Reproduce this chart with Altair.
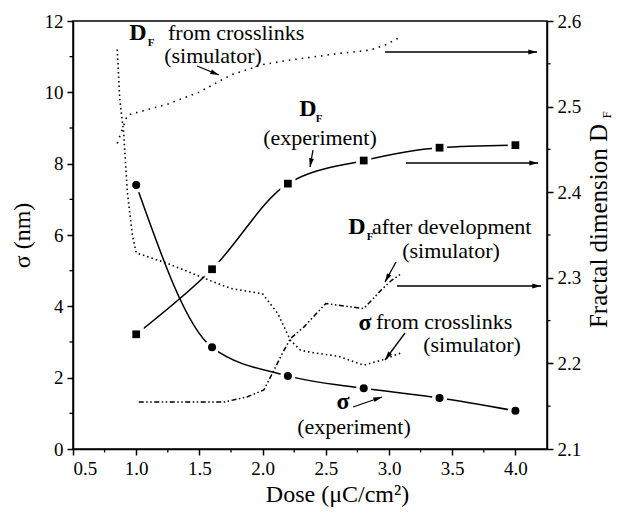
import math
import altair as alt
import pandas as pd

# ---------------- data ----------------
dose_exp = [1.0, 1.6, 2.2, 2.8, 3.4, 4.0]
sigma_exp = [7.4, 2.85, 2.05, 1.70, 1.43, 1.07]
df_exp = [2.234, 2.310, 2.410, 2.437, 2.452, 2.455]

sigma_cl_dose = [0.85, 0.87, 0.90, 0.93, 0.97, 1.0, 1.25, 1.6, 1.75, 2.0, 2.12, 2.22, 2.3, 2.4, 2.6, 2.8, 2.95, 3.1]
sigma_cl = [11.2, 9.8, 8.9, 7.2, 6.0, 5.5, 5.2, 4.7, 4.5, 4.35, 3.8, 3.05, 2.77, 2.7, 2.6, 2.35, 2.5, 2.7]

df_cl_dose = [0.85, 0.93, 1.25, 1.5, 1.75, 2.0, 2.2, 2.6, 2.85, 2.97, 3.1]
df_cl = [2.457, 2.49, 2.503, 2.517, 2.537, 2.549, 2.554, 2.562, 2.566, 2.572, 2.582]

df_dev_dose = [1.02, 1.7, 1.88, 2.01, 2.09, 2.15, 2.22, 2.33, 2.5, 2.8, 2.94, 3.02, 3.1]
df_dev = [2.155, 2.155, 2.161, 2.169, 2.192, 2.21, 2.229, 2.243, 2.27, 2.264, 2.286, 2.297, 2.305]

x_ticks = [0.5, 1.0, 1.5, 2.0, 2.5, 3.0, 3.5, 4.0]
x_minor = [0.75, 1.25, 1.75, 2.25, 2.75, 3.25, 3.75]
sigma_ticks = [0, 2, 4, 6, 8, 10, 12]
sigma_minor = [1, 3, 5, 7, 9, 11]
df_ticks = [2.1, 2.2, 2.3, 2.4, 2.5, 2.6]
df_minor = [2.15, 2.25, 2.35, 2.45, 2.55]

# ---------------- layout ----------------
SERIF = "Liberation Serif"
PL, PT, W, H = 73, 21, 474, 428
XD = [0.5, 4.25]
SD = [0.0, 12.0]
DD = [2.1, 2.6]


def dx(px):
    return XD[0] + (px - PL) / W * (XD[1] - XD[0])


def sy(py):
    return SD[0] + (PT + H - py) / H * (SD[1] - SD[0])


xs = alt.Scale(domain=XD, nice=False, zero=False)
ss = alt.Scale(domain=SD, nice=False, zero=False)
ds = alt.Scale(domain=DD, nice=False, zero=False)

# annotation texts (pixel positions in the figure, converted to data units)
bold_txt = [("D", 138, 40, 24), ("F", 151, 46, 11),
            ("D", 308, 116, 24), ("F", 319, 122, 11),
            ("D", 357, 234, 24), ("F", 370, 240, 11),
            ("σ", 365, 330, 24), ("σ", 343, 409, 24)]
norm_txt = [("from crosslinks", 168, 40, "left"), ("(simulator)", 213, 63, "center"),
            ("(experiment)", 320, 145, "center"),
            ("after development", 372, 234, "left"), ("(simulator)", 451, 258, "center"),
            ("from crosslinks", 376, 329, "left"), ("(simulator)", 472, 352, "center"),
            ("(experiment)", 354, 434, "center")]
arrows = [(197, 66, 219, 75), (313, 150, 310, 167), (396, 262, 385, 282),
          (405, 333, 385, 360), (353, 407, 382, 397),
          (385, 52, 537, 52), (406, 163, 538, 163), (397, 286, 541, 286)]

exp_df = pd.DataFrame({"dose": dose_exp, "sigma": sigma_exp, "df": df_exp})
scl_df = pd.DataFrame({"dose": sigma_cl_dose, "sigma": sigma_cl})
dcl_df = pd.DataFrame({"dose": df_cl_dose, "df": df_cl})
dev_df = pd.DataFrame({"dose": df_dev_dose, "df": df_dev})

X_AX = alt.Axis(values=x_ticks, format=".1f", tickSize=6, tickWidth=1.5, domainWidth=1.5,
                domainColor="black", tickColor="black", labelColor="black",
                labelFont=SERIF, labelFontSize=19, labelPadding=4, grid=False,
                title="Dose (μC/cm²)", titleFont=SERIF, titleFontSize=24, titleFontWeight="normal",
                titleColor="black", titleX=264, titleY=52, titleBaseline="alphabetic",
                titleAlign="center", orient="bottom")
S_AX = alt.Axis(values=sigma_ticks, format="d", tickSize=6, tickWidth=1.5, domainWidth=1.5,
                domainColor="black", tickColor="black", labelColor="black",
                labelFont=SERIF, labelFontSize=19, labelPadding=4, grid=False,
                title="σ (nm)", titleFont=SERIF, titleFontSize=24, titleFontWeight="normal",
                titleColor="black", titlePadding=10, orient="left")
D_AX = alt.Axis(values=df_ticks, format=".1f", tickSize=6, tickWidth=1.5, domainWidth=1.5,
                domainColor="black", tickColor="black", labelColor="black",
                labelFont=SERIF, labelFontSize=19, labelPadding=4, grid=False,
                title="", orient="right")


def X(f="dose"):
    return alt.X(f"{f}:Q", scale=xs, axis=None)


def YS(f="sigma"):
    return alt.Y(f"{f}:Q", scale=ss, axis=None)


def YD(f="df"):
    return alt.Y(f"{f}:Q", scale=ds, axis=None)


# ---------- sigma marks ----------
sig_line = alt.Chart(exp_df).mark_line(interpolate="monotone", color="black", strokeWidth=1.5).encode(
    x=alt.X("dose:Q", scale=xs, axis=X_AX), y=alt.Y("sigma:Q", scale=ss, axis=S_AX))
sig_halo = alt.Chart(exp_df).mark_point(shape="circle", filled=True, size=230, color="white", opacity=1).encode(
    x=X(), y=YS())
sig_pts = alt.Chart(exp_df).mark_point(shape="circle", filled=True, size=64, color="black", opacity=1).encode(
    x=X(), y=YS())
scl_line = alt.Chart(scl_df).mark_line(color="black", strokeWidth=1.6, strokeDash=[1.5, 3]).encode(
    x=X(), y=YS())

# ---------- fractal dimension marks ----------
df_line = alt.Chart(exp_df).mark_line(interpolate="monotone", color="black", strokeWidth=1.5).encode(
    x=X(), y=alt.Y("df:Q", scale=ds, axis=D_AX))
df_halo = alt.Chart(exp_df).mark_point(shape="square", filled=True, size=230, color="white", opacity=1).encode(
    x=X(), y=YD())
df_pts = alt.Chart(exp_df).mark_point(shape="square", filled=True, size=60, color="black", opacity=1).encode(
    x=X(), y=YD())
dcl_line = alt.Chart(dcl_df).mark_line(color="black", strokeWidth=1.6, strokeDash=[1.5, 5]).encode(
    x=X(), y=YD())
dev_line = alt.Chart(dev_df).mark_line(color="black", strokeWidth=1.5,
                                       strokeDash=[5, 2.5, 1.5, 2.5, 1.5, 2.5]).encode(x=X(), y=YD())

# ---------- annotations ----------
bt = pd.DataFrame({"t": [b[0] for b in bold_txt], "x": [dx(b[1]) for b in bold_txt],
                   "y": [sy(b[2]) for b in bold_txt], "sz": [b[3] for b in bold_txt]})
nt = pd.DataFrame({"t": [n[0] for n in norm_txt], "x": [dx(n[1]) for n in norm_txt],
                   "y": [sy(n[2]) for n in norm_txt], "al": [n[3] for n in norm_txt]})

bold_layer = alt.Chart(bt).mark_text(font=SERIF, fontWeight="bold", baseline="alphabetic",
                                     align="center", color="black").encode(
    x=X("x"), y=YS("y"), text="t:N", size=alt.Size("sz:Q", scale=None))
norm_c = alt.Chart(nt[nt.al == "center"]).mark_text(font=SERIF, fontSize=22, baseline="alphabetic",
                                                    align="center", color="black").encode(
    x=X("x"), y=YS("y"), text="t:N")
norm_l = alt.Chart(nt[nt.al == "left"]).mark_text(font=SERIF, fontSize=22, baseline="alphabetic",
                                                  align="left", color="black").encode(
    x=X("x"), y=YS("y"), text="t:N")

ar = pd.DataFrame({"x": [dx(a[0]) for a in arrows], "y": [sy(a[1]) for a in arrows],
                   "x2": [dx(a[2]) for a in arrows], "y2": [sy(a[3]) for a in arrows],
                   "ang": [math.degrees(math.atan2(a[3] - a[1], a[2] - a[0])) % 360 for a in arrows]})
shafts = alt.Chart(ar).mark_rule(color="black", strokeWidth=1.3).encode(
    x=X("x"), y=YS("y"), x2="x2:Q", y2="y2:Q")
heads = alt.Chart(ar).mark_point(shape="M0,0L-1,-0.28L-1,0.28Z", filled=True, size=300,
                                 color="black", opacity=1).encode(
    x=X("x2"), y=YS("y2"), angle=alt.Angle("ang:Q", scale=None))

xm = pd.DataFrame({"v": x_minor})
sm = pd.DataFrame({"v": sigma_minor})
dm = pd.DataFrame({"v": df_minor})
x_minor_l = alt.Chart(xm).mark_rule(color="black", strokeWidth=1.3).encode(
    x=X("v"), y=alt.value(H), y2=alt.value(H + 3.5))
s_minor_l = alt.Chart(sm).mark_rule(color="black", strokeWidth=1.3).encode(
    y=YS("v"), x=alt.value(0), x2=alt.value(-3.5))
d_minor_l = alt.Chart(dm).mark_rule(color="black", strokeWidth=1.3).encode(
    y=YD("v"), x=alt.value(W), x2=alt.value(W + 3.5))

rt = pd.DataFrame({"t": ["Fractal dimension D"]})
rtitle = alt.Chart(rt).mark_text(font=SERIF, fontSize=25, angle=270, align="center",
                                 baseline="middle", color="black").encode(
    x=alt.value(599 - PL), y=alt.value(226 - PT), text="t:N")
rsub = alt.Chart(pd.DataFrame({"t": ["F"]})).mark_text(font=SERIF, fontSize=13, angle=270, align="center",
                                                       baseline="middle", color="black").encode(
    x=alt.value(607 - PL), y=alt.value(115 - PT), text="t:N")

chart = alt.layer(
    sig_line, df_line, scl_line, dcl_line, dev_line,
    sig_halo, df_halo, sig_pts, df_pts,
    shafts, heads, bold_layer, norm_c, norm_l,
    x_minor_l, s_minor_l, d_minor_l, rtitle, rsub,
).resolve_scale(y="independent").resolve_axis(x="independent").properties(
    width=W, height=H, autosize="none",
    padding={"left": PL, "top": PT, "right": 620 - PL - W, "bottom": 527 - PT - H},
    background="white",
).configure_view(stroke="black", strokeWidth=1.5)

chart.save("out.html", embed_options={"renderer": "svg", "actions": False})
